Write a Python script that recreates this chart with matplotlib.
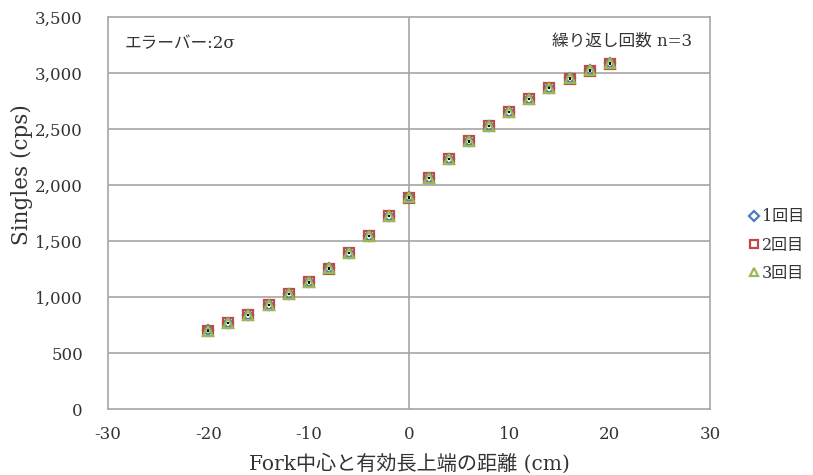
import matplotlib
matplotlib.use("Agg")
import matplotlib.pyplot as plt

plt.rcParams['font.family'] = ['DejaVu Serif', 'Noto Sans CJK JP']

# Distance between fork centre and top of active length (cm)
distance = [-20, -18, -16, -14, -12, -10, -8, -6, -4, -2, 0,
            2, 4, 6, 8, 10, 12, 14, 16, 18, 20]

# Singles count rate (cps) for three repeated runs
run1 = [702, 766, 841, 930, 1028, 1131, 1255, 1392, 1548, 1723, 1889,
        2063, 2235, 2390, 2530, 2650, 2766, 2870, 2958, 3025, 3086]
run2 = [700, 765, 840, 929, 1027, 1130, 1254, 1391, 1547, 1722, 1888,
        2062, 2234, 2389, 2528, 2649, 2765, 2868, 2950, 3022, 3084]
run3 = [701, 766, 841, 930, 1028, 1131, 1255, 1392, 1548, 1723, 1889,
        2063, 2235, 2389, 2529, 2649, 2765, 2869, 2951, 3023, 3085]

# 2-sigma error bars (cps)
err = [10] * len(distance)

series_labels = ['1回目', '2回目', '3回目']
x_ticks = [-30, -20, -10, 0, 10, 20, 30]
y_ticks = [0, 500, 1000, 1500, 2000, 2500, 3000, 3500]

text_c = '#333333'
grid_c = '#a6a6a6'

fig = plt.figure(figsize=(8.13, 4.75), dpi=100)
ax = fig.add_axes([0.1328, 0.1389, 0.7405, 0.8253])

for yv in y_ticks[1:-1]:
    ax.axhline(yv, color=grid_c, lw=1.2, zorder=1)
ax.axvline(0, color=grid_c, lw=1.2, zorder=1)

styles = [('D', '#4a7ebb', 5.5), ('s', '#be4b48', 7.5), ('^', '#98b954', 7.5)]
for vals, (mk, col, ms), lab in zip([run1, run2, run3], styles, series_labels):
    ax.errorbar(distance, vals, yerr=err, fmt=mk, ms=ms, mfc='none',
                mec=col, mew=1.6, ecolor='black', elinewidth=1.2,
                capsize=0, label=lab, zorder=3)

ax.set_xlim(-30, 30)
ax.set_ylim(0, 3500)
ax.set_xticks(x_ticks)
ax.set_yticks(y_ticks)
ax.set_xticklabels([str(v) for v in x_ticks], fontsize=12)
ax.set_yticklabels([f'{v:,}' for v in y_ticks], fontsize=12)
ax.tick_params(axis='both', length=0, colors=text_c)
ax.tick_params(axis='y', pad=18)
ax.tick_params(axis='x', pad=12)

for sp in ax.spines.values():
    sp.set_color(grid_c)
    sp.set_linewidth(1.2)

ax.set_xlabel('Fork中心と有効長上端の距離 (cm)', fontsize=14.5, color=text_c, labelpad=8)
ax.set_ylabel('Singles (cps)', fontsize=15.5, color=text_c,
              va='center', ha='center')
ax.yaxis.set_label_coords(-0.143, 0.597)

ax.text(0.028, 0.955, 'エラーバー:2σ', transform=ax.transAxes, fontsize=12,
        va='top', ha='left', color=text_c)
ax.text(0.97, 0.96, '繰り返し回数 n=3', transform=ax.transAxes, fontsize=12,
        va='top', ha='right', color=text_c)

handles, labels = ax.get_legend_handles_labels()
handles = [h[0] for h in handles]
fig.legend(handles, labels, loc='center left', bbox_to_anchor=(0.9, 0.484),
           frameon=False, fontsize=11.5, handletextpad=0.0, handlelength=1.0,
           labelspacing=0.7, markerscale=0.85, labelcolor=text_c)

fig.savefig('out.png', dpi=100)
